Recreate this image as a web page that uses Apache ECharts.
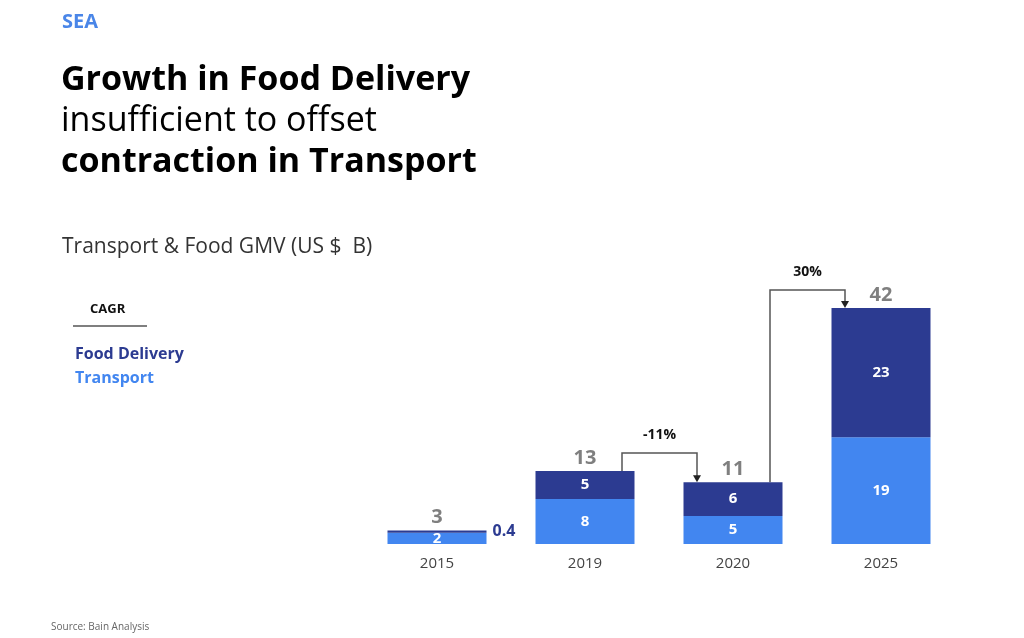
<!DOCTYPE html>
<html>
<head>
<meta charset="utf-8">
<script src="https://cdn.jsdelivr.net/npm/echarts@6/dist/echarts.min.js"></script>
<style>
html,body{margin:0;padding:0;background:#fff;}
#c{width:1024px;height:638px;}
</style>
</head>
<body>
<div id="c"></div>
<script>
const categories = ['2015', '2019', '2020', '2025'];
const transport = [2, 8, 5, 19];
const foodDelivery = [0.4, 5, 6, 23];
const totalLabels = ['3', '13', '11', '42'];
const cagrArrows = [
  { from: 1, to: 2, text: '-11%' },
  { from: 2, to: 3, text: '30%' }
];

const NAVY = '#2c3b91';
const BLUE = '#4286f0';
const FONT = '"Open Sans", Roboto, sans-serif';

const totals = transport.map((v, i) => v + foodDelivery[i]);

const chart = echarts.init(document.getElementById('c'));

const option = {
  backgroundColor: '#fff',
  animation: false,
  textStyle: { fontFamily: FONT },
  grid: { left: 363, right: 69, top: 308, bottom: 94 },
  xAxis: {
    type: 'category',
    data: categories,
    axisLine: { show: false },
    axisTick: { show: false },
    axisLabel: { color: '#444', fontSize: 15, margin: 12, fontFamily: FONT }
  },
  yAxis: {
    type: 'value', min: 0, max: 42, show: false, splitLine: { show: false }
  },
  series: [
    {
      name: 'Transport', type: 'bar', stack: 'a', barWidth: 99,
      itemStyle: { color: BLUE },
      label: { show: true, position: 'inside', color: '#fff', fontWeight: 'bold', fontSize: 15, fontFamily: FONT },
      data: transport
    },
    {
      name: 'Food Delivery', type: 'bar', stack: 'a', barWidth: 99,
      itemStyle: { color: NAVY },
      label: { show: true, position: 'inside', color: '#fff', fontWeight: 'bold', fontSize: 15, fontFamily: FONT },
      data: foodDelivery.map((v, i) => i === 0 ? {
        value: v,
        label: { position: 'right', color: NAVY, fontSize: 16, distance: 6, fontWeight: 'bold' }
      } : v)
    },
    {
      name: 'Total', type: 'scatter', symbolSize: 0,
      label: {
        show: true, position: 'top', distance: 3, color: '#5f5f5f', fontWeight: 'bold', fontSize: 20, fontFamily: FONT,
        formatter: p => totalLabels[p.dataIndex]
      },
      data: totals
    }
  ],
  graphic: []
};
chart.setOption(option);

// Build CAGR connector annotations from data positions
const g = [];
cagrArrows.forEach(a => {
  const pFrom = chart.convertToPixel({ gridIndex: 0 }, [a.from, totals[a.from]]);
  const pTo = chart.convertToPixel({ gridIndex: 0 }, [a.to, totals[a.to]]);
  const x1 = pFrom[0] + 37;
  const x2 = pTo[0] - 36;
  const y = Math.min(pFrom[1], pTo[1]) - 18;
  g.push({
    type: 'polyline', silent: true,
    shape: { points: [[x1, pFrom[1]], [x1, y], [x2, y], [x2, pTo[1] - 6]] },
    style: { stroke: '#555', lineWidth: 1.5, fill: null }
  });
  g.push({
    type: 'polygon', silent: true,
    shape: { points: [[x2 - 4, pTo[1] - 7], [x2 + 4, pTo[1] - 7], [x2, pTo[1]]] },
    style: { fill: '#222' }
  });
  g.push({
    type: 'text', silent: true,
    style: { text: a.text, x: (x1 + x2) / 2, y: y - 18, textAlign: 'center', textVerticalAlign: 'middle',
      fill: '#111', fontWeight: 'bold', fontSize: 14, fontFamily: FONT }
  });
});

// Header texts
g.push({ type: 'text', style: { text: 'SEA', x: 62, y: 22, textVerticalAlign: 'middle', fill: '#4a86e8', fontWeight: 'bold', fontSize: 20, fontFamily: FONT } });
g.push({ type: 'text', style: { text: 'Growth in Food Delivery', x: 61, y: 80, textVerticalAlign: 'middle', fill: '#000', fontWeight: 'bold', fontSize: 34, fontFamily: FONT } });
g.push({ type: 'text', style: { text: 'insufficient to offset', x: 61, y: 121, textVerticalAlign: 'middle', fill: '#000', fontWeight: 'normal', fontSize: 34, fontFamily: FONT } });
g.push({ type: 'text', style: { text: 'contraction in Transport', x: 61, y: 162, textVerticalAlign: 'middle', fill: '#000', fontWeight: 'bold', fontSize: 34, fontFamily: FONT } });
g.push({ type: 'text', style: { text: 'Transport & Food GMV (US $  B)', x: 62, y: 247, textVerticalAlign: 'middle', fill: '#333', fontSize: 21, fontFamily: FONT } });

// CAGR legend
g.push({ type: 'text', style: { text: 'CAGR', x: 90, y: 309, textVerticalAlign: 'middle', fill: '#111', fontWeight: 'bold', fontSize: 13, fontFamily: FONT } });
g.push({ type: 'line', shape: { x1: 73, y1: 326, x2: 147, y2: 326 }, style: { stroke: '#555', lineWidth: 1.5 } });
g.push({ type: 'text', style: { text: 'Food Delivery', x: 75, y: 354, textVerticalAlign: 'middle', fill: NAVY, fontWeight: 'bold', fontSize: 16, fontFamily: FONT } });
g.push({ type: 'text', style: { text: 'Transport', x: 75, y: 378, textVerticalAlign: 'middle', fill: BLUE, fontWeight: 'bold', fontSize: 16, fontFamily: FONT } });

// Source
g.push({ type: 'text', style: { text: 'Source: Bain Analysis', x: 51, y: 627, textVerticalAlign: 'middle', fill: '#666', fontSize: 10, fontFamily: FONT } });

chart.setOption({ graphic: g });
</script>
</body>
</html>
